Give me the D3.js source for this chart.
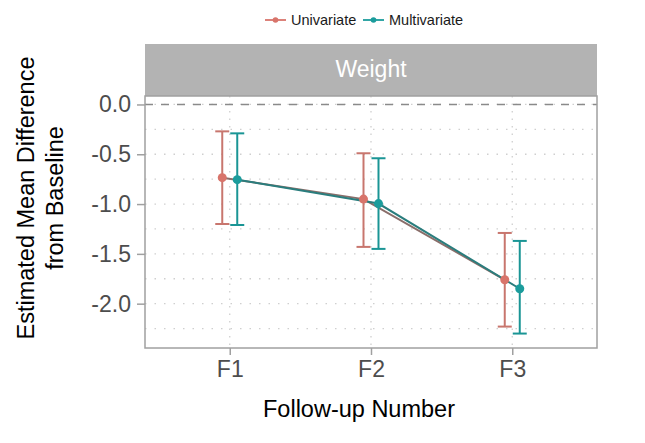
<!DOCTYPE html>
<html>
<head>
<meta charset="utf-8">
<script src="https://cdn.jsdelivr.net/npm/d3@7"></script>
<style>
  body { margin: 0; background: #fff; }
  svg { font-family: "Liberation Sans", Arial, sans-serif; }
</style>
</head>
<body>
<div id="chart"></div>
<script>
// data
const followUps = ["F1", "F2", "F3"];
const seriesNames = ["Univariate", "Multivariate"];
const uniMean = [-0.735, -0.95, -1.76];
const uniLow = [-1.20, -1.43, -2.23];
const uniHigh = [-0.27, -0.49, -1.29];
const multiMean = [-0.755, -0.995, -1.85];
const multiLow = [-1.21, -1.45, -2.30];
const multiHigh = [-0.29, -0.54, -1.37];
const yTicks = [0.0, -0.5, -1.0, -1.5, -2.0];
const yMinor = [-0.25, -0.75, -1.25, -1.75, -2.25];

const width = 645, height = 443;
const panel = { left: 145, right: 597, top: 96, bottom: 348 };

const colors = { Univariate: "#d8746b", Multivariate: "#1b9c9c" };
const barColors = { Univariate: "#c8766e", Multivariate: "#1a9595" };

const series = [
  { name: "Univariate", mean: uniMean, low: uniLow, high: uniHigh, dodge: -7.5 },
  { name: "Multivariate", mean: multiMean, low: multiLow, high: multiHigh, dodge: 7.5 }
];

const svg = d3.select("#chart").append("svg")
    .attr("width", width)
    .attr("height", height);

const x = d3.scalePoint()
    .domain(followUps)
    .range([panel.left, panel.right])
    .padding(0.6);

const y = d3.scaleLinear()
    .domain([0.085, -2.445])
    .range([panel.top, panel.bottom]);

// grid
const grid = svg.append("g");
grid.selectAll(".hmin")
    .data(yTicks.concat(yMinor))
    .enter().append("line")
    .attr("x1", panel.left).attr("x2", panel.right)
    .attr("y1", d => y(d)).attr("y2", d => y(d))
    .attr("stroke", "#cfcfcf")
    .attr("stroke-width", 1.3)
    .attr("stroke-dasharray", "1.5,8");
grid.selectAll(".vmaj")
    .data(followUps)
    .enter().append("line")
    .attr("x1", d => x(d)).attr("x2", d => x(d))
    .attr("y1", panel.top).attr("y2", panel.bottom)
    .attr("stroke", "#cfcfcf")
    .attr("stroke-width", 1.3)
    .attr("stroke-dasharray", "1.5,6");

// reference line at zero
svg.append("line")
    .attr("x1", panel.left).attr("x2", panel.right)
    .attr("y1", y(0)).attr("y2", y(0))
    .attr("stroke", "#8a8a8a")
    .attr("stroke-width", 1.5)
    .attr("stroke-dasharray", "8,8");

// strip
svg.append("rect")
    .attr("x", panel.left).attr("y", 44)
    .attr("width", panel.right - panel.left).attr("height", 52)
    .attr("fill", "#b3b3b3");
svg.append("text")
    .attr("x", (panel.left + panel.right) / 2).attr("y", 77)
    .attr("text-anchor", "middle")
    .attr("fill", "#ffffff")
    .attr("font-size", 23)
    .text("Weight");

// lines
const line = d3.line()
    .x((d, i) => d.x)
    .y(d => y(d.v));

series.forEach(s => {
  const pts = followUps.map((f, i) => ({ x: x(f) + s.dodge, v: s.mean[i] }));
  svg.append("path")
      .datum(pts)
      .attr("d", line)
      .attr("fill", "none")
      .attr("stroke", s.name === "Univariate" ? "#8a6e6a" : "#2a7d7d")
      .attr("stroke-width", 2);
});

// error bars and points
series.forEach(s => {
  const g = svg.append("g");
  followUps.forEach((f, i) => {
    const cx = x(f) + s.dodge;
    g.append("line")
        .attr("x1", cx).attr("x2", cx)
        .attr("y1", y(s.low[i])).attr("y2", y(s.high[i]))
        .attr("stroke", barColors[s.name]).attr("stroke-width", 2);
    [s.low[i], s.high[i]].forEach(v => {
      g.append("line")
          .attr("x1", cx - 7).attr("x2", cx + 7)
          .attr("y1", y(v)).attr("y2", y(v))
          .attr("stroke", barColors[s.name]).attr("stroke-width", 2);
    });
    g.append("circle")
        .attr("cx", cx).attr("cy", y(s.mean[i]))
        .attr("r", 4.5)
        .attr("fill", colors[s.name]);
  });
});

// panel border
svg.append("rect")
    .attr("x", panel.left).attr("y", panel.top)
    .attr("width", panel.right - panel.left).attr("height", panel.bottom - panel.top)
    .attr("fill", "none")
    .attr("stroke", "#a0a0a0")
    .attr("stroke-width", 1.5);

// axes
const yAxis = svg.append("g")
    .attr("transform", `translate(${panel.left},0)`)
    .call(d3.axisLeft(y).tickValues(yTicks).tickFormat(d3.format(".1f")).tickSize(8).tickPadding(6));
const xAxis = svg.append("g")
    .attr("transform", `translate(0,${panel.bottom})`)
    .call(d3.axisBottom(x).tickSize(7).tickPadding(6));
[yAxis, xAxis].forEach(a => {
  a.select(".domain").remove();
  a.selectAll(".tick line").attr("stroke", "#a0a0a0").attr("stroke-width", 1.5);
  a.selectAll(".tick text")
      .attr("fill", "#4d4d4d")
      .attr("font-size", 23)
      .attr("font-family", "Liberation Sans, Arial, sans-serif");
});
yAxis.selectAll(".tick text").text(d => d3.format(".1f")(d).replace("\u2212", "-"));

// axis titles
svg.append("text")
    .attr("x", 359).attr("y", 417)
    .attr("text-anchor", "middle")
    .attr("font-size", 23.5)
    .attr("fill", "#000")
    .text("Follow-up Number");
const yt = svg.append("text")
    .attr("transform", "translate(0,198) rotate(-90)")
    .attr("text-anchor", "middle")
    .attr("font-size", 23.5)
    .attr("fill", "#000");
yt.append("tspan").attr("x", 0).attr("y", 34).text("Estimated Mean Difference");
yt.append("tspan").attr("x", 0).attr("y", 63).text("from Baseline");

// legend
const legend = svg.append("g").attr("transform", "translate(265,20)");
const legendX = [0, 98];
seriesNames.forEach((n, i) => {
  const lg = legend.append("g").attr("transform", `translate(${legendX[i]},0)`);
  lg.append("line").attr("x1", 0).attr("x2", 21).attr("y1", 0).attr("y2", 0)
      .attr("stroke", colors[n]).attr("stroke-width", 1.8);
  lg.append("circle").attr("cx", 10.5).attr("cy", 0).attr("r", 2.8).attr("fill", colors[n]);
  lg.append("text").attr("x", 26).attr("y", 5)
      .attr("font-size", 14.5).attr("fill", "#1a1a1a").text(n);
});
</script>
</body>
</html>
